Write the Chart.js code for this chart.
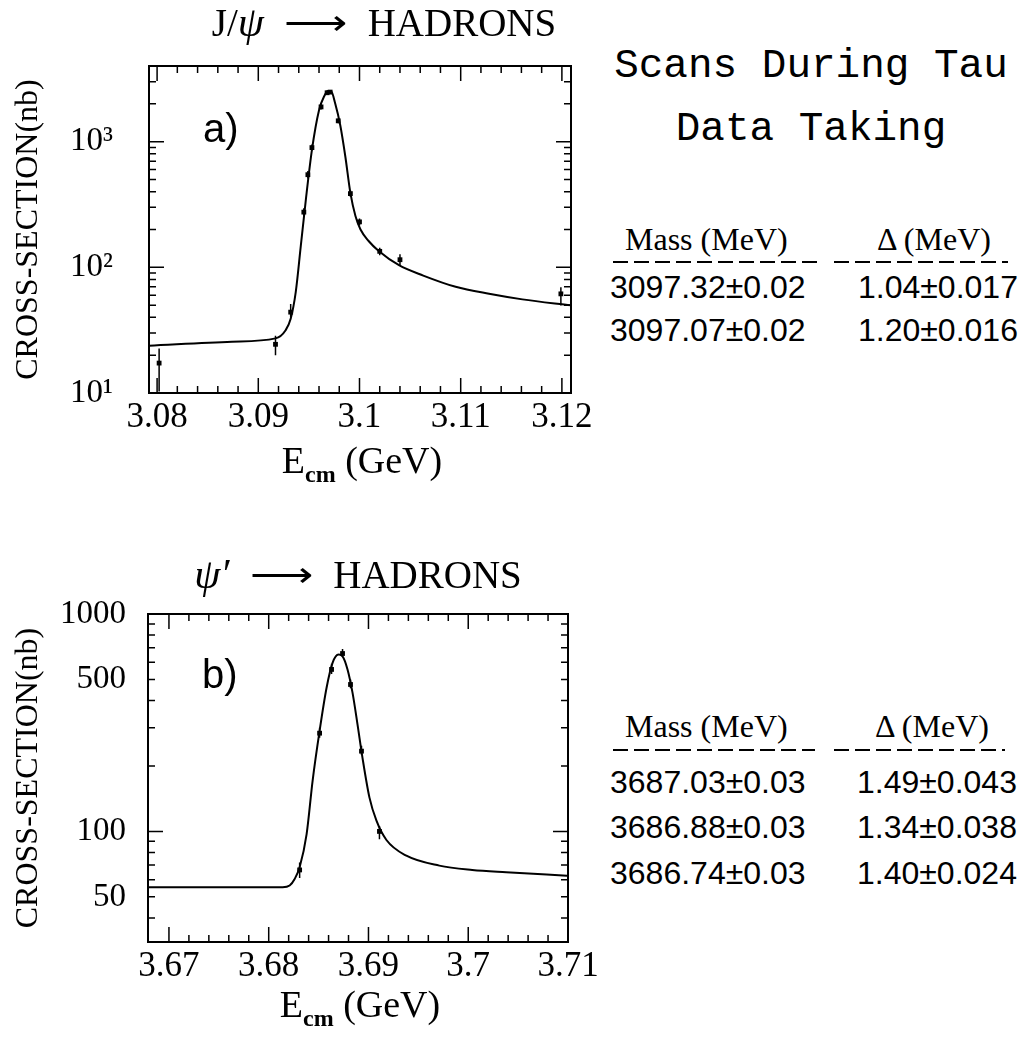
<!DOCTYPE html>
<html lang="en">

<head>
    <meta charset="UTF-8">
    <title>J/psi and psi' scans</title>
    <script src="https://cdn.jsdelivr.net/npm/chart.js"></script>
    <style>
        body { margin: 0; background: #fff; width: 1024px; height: 1050px; overflow: hidden; position: relative; }
        .painel { position: absolute; left: 0; width: 600px; height: 520px; }
        .texto { position: absolute; color: #000; white-space: nowrap; }
        .titulo-dir { font: 41px "Liberation Mono", monospace; line-height: 41px; width: 420px; text-align: center; left: 601px; }
        .cab { font: 32px "Liberation Serif", serif; line-height: 32px; }
        .val { font: 32px "Liberation Sans", sans-serif; line-height: 32px; }
        .traco { position: absolute; height: 2px; background: repeating-linear-gradient(to right, #000 0 15px, transparent 15px 21px); }
    </style>
</head>

<body>
    <div class="painel" style="top:0"><canvas id="graficoJpsi" width="600" height="520"></canvas></div>
    <div class="painel" style="top:530px"><canvas id="graficoPsi2" width="600" height="520"></canvas></div>

    <div class="texto titulo-dir" style="top:46px">Scans During Tau</div>
    <div class="texto titulo-dir" style="top:109px">Data Taking</div>

    <div id="tabelas"></div>

<script>
    // J/psi scan: fitted curve and measured points
    var jpsiCurveE = [3.0792, 3.0874, 3.0917, 3.0927, 3.0932, 3.0937, 3.0942, 3.0947, 3.0953, 3.0960, 3.0965, 3.0969,
        3.0972, 3.0976, 3.0981, 3.0986, 3.0991, 3.0996, 3.1001, 3.1009, 3.1019, 3.1039, 3.1063, 3.1095, 3.1128, 3.1161, 3.1209];
    var jpsiCurveSigma = [23.8, 25.6, 27.2, 31.6, 39, 63.5, 148, 346, 860, 1780, 2290, 2530,
        2520, 2010, 1350, 762, 391, 256, 200, 162, 135, 104, 86, 70, 61.6, 55.6, 49.8];
    var jpsiE = [3.0802, 3.0917, 3.0932, 3.0945, 3.0949, 3.0953, 3.0962, 3.0968, 3.0971, 3.0979, 3.0991, 3.1000, 3.1020, 3.1040, 3.1199];
    var jpsiSigma = [17.3, 24.4, 44, 275, 546, 897, 1890, 2450, 2480, 1465, 386, 230, 134, 115, 61.5];
    var jpsiSigmaLo = [10.3, 20, 40, 255, 510, 850, 1800, 2350, 2400, 1400, 365, 215, 125, 103, 49.8];
    var jpsiSigmaHi = [22.6, 28.5, 51, 295, 585, 950, 1990, 2550, 2570, 1530, 410, 245, 143, 127, 69.5];

    // psi' scan
    var psi2CurveE = [3.6680, 3.6814, 3.6821, 3.6826, 3.6831, 3.6838, 3.6844, 3.6851, 3.6858, 3.6864, 3.6870, 3.6874,
        3.6879, 3.6884, 3.6889, 3.6894, 3.6901, 3.6908, 3.6918, 3.6938, 3.6971, 3.7004, 3.7038, 3.7099];
    var psi2CurveSigma = [55.4, 55.4, 56.4, 60.4, 68.4, 97.2, 171, 290, 458, 596, 651, 639,
        556, 435, 311, 218, 143, 112, 91.3, 77.3, 69.6, 66.5, 64.9, 62.6];
    var psi2E = [3.6831, 3.6851, 3.6863, 3.6874, 3.6882, 3.6893, 3.6911];
    var psi2Sigma = [66.5, 283, 556, 658, 474, 234, 100];
    var psi2SigmaLo = [61, 270, 530, 640, 455, 225, 92];
    var psi2SigmaHi = [72, 300, 590, 690, 500, 248, 106];

    // resultados das tabelas
    var jpsiMass = ['3097.32\u00b10.02', '3097.07\u00b10.02'];
    var jpsiDelta = ['1.04\u00b10.017', '1.20\u00b10.016'];
    var psi2Mass = ['3687.03\u00b10.03', '3686.88\u00b10.03', '3686.74\u00b10.03'];
    var psi2Delta = ['1.49\u00b10.043', '1.34\u00b10.038', '1.40\u00b10.024'];

    function pares(xs, ys) {
        return xs.map(function (x, i) { return { x: x, y: ys[i] }; });
    }

    function ehPotencia(v) {
        var l = Math.log10(v);
        return Math.abs(l - Math.round(l)) < 1e-9;
    }

    // ticks every 0.002 GeV, labels every 0.01
    function ticksX(inicio, fim) {
        return function (scale) {
            var t = [];
            var n = Math.round((fim - inicio) / 0.002);
            for (var i = 0; i <= n; i++) t.push({ value: Math.round((inicio + i * 0.002) * 1e4) / 1e4 });
            scale.ticks = t;
        };
    }

    // 1..9 x 10^n inside the range
    function ticksLog(scale) {
        var t = [];
        for (var e = -1; e <= 5; e++) {
            for (var s = 1; s <= 9; s++) {
                var v = s * Math.pow(10, e);
                if (v >= scale.min - 1e-9 && v <= scale.max + 1e-9) t.push({ value: v });
            }
        }
        scale.ticks = t;
    }

    function rotuloX(v) {
        var c = Math.round(v * 1000);
        return c % 10 === 0 ? String(+v.toFixed(2)) : '';
    }

    // inward ticks on all four sides, frame and error bars
    var molduraPlugin = {
        id: 'moldura',
        afterDatasetsDraw: function (chart) {
            var ctx = chart.ctx, a = chart.chartArea, sx = chart.scales.x, sy = chart.scales.y;
            ctx.save();
            ctx.strokeStyle = '#000';
            ctx.lineWidth = 1.5;
            ctx.beginPath();
            sx.ticks.forEach(function (t) {
                var p = sx.getPixelForValue(t.value);
                var len = t.label ? 15 : 7;
                ctx.moveTo(p, a.bottom); ctx.lineTo(p, a.bottom - len);
                ctx.moveTo(p, a.top); ctx.lineTo(p, a.top + len);
            });
            sy.ticks.forEach(function (t) {
                var p = sy.getPixelForValue(t.value);
                var len = ehPotencia(t.value) ? 15 : 7;
                ctx.moveTo(a.left, p); ctx.lineTo(a.left + len, p);
                ctx.moveTo(a.right, p); ctx.lineTo(a.right - len, p);
            });
            ctx.stroke();

            chart.data.datasets.forEach(function (ds) {
                if (!ds.erroLo) return;
                ctx.beginPath();
                ds.data.forEach(function (pt, i) {
                    var px = sx.getPixelForValue(pt.x);
                    ctx.moveTo(px, Math.min(sy.getPixelForValue(ds.erroLo[i]), a.bottom));
                    ctx.lineTo(px, sy.getPixelForValue(ds.erroHi[i]));
                });
                ctx.stroke();
            });

            ctx.lineWidth = 2;
            ctx.strokeRect(a.left, a.top, a.right - a.left, a.bottom - a.top);
            ctx.restore();
        }
    };

    // title, panel tag and x axis title with subscript
    var textosPlugin = {
        id: 'textos',
        afterDraw: function (chart, args, opts) {
            var ctx = chart.ctx, a = chart.chartArea;
            var cx = (a.left + a.right) / 2;
            ctx.save();
            ctx.fillStyle = '#000';
            ctx.textBaseline = 'alphabetic';
            ctx.textAlign = 'left';

            // titulo: prefixo, seta longa, HADRONS
            var fT = '39px "Liberation Serif"', fTi = 'italic 42px "Liberation Serif"';
            var gap = 20, esticar = 1.3;
            var wPre = 0;
            opts.titulo.forEach(function (p) { ctx.font = p[1] ? fTi : fT; wPre += ctx.measureText(p[0]).width; });
            ctx.font = '34px "Liberation Serif"';
            var wSeta = ctx.measureText('\u27f6').width * esticar;
            ctx.font = fT;
            var wHad = ctx.measureText('HADRONS').width;
            var x = cx + opts.tituloDx - (wPre + wSeta + wHad + 2 * gap) / 2;
            opts.titulo.forEach(function (p) {
                ctx.font = p[1] ? fTi : fT;
                ctx.fillText(p[0], x, opts.tituloY);
                x += ctx.measureText(p[0]).width;
            });
            x += gap;
            ctx.font = '34px "Liberation Serif"';
            ctx.save();
            ctx.translate(x, opts.tituloY - 2);
            ctx.scale(esticar, 1);
            ctx.fillText('\u27f6', 0, 0);
            ctx.restore();
            x += wSeta + gap;
            ctx.font = fT;
            ctx.fillText('HADRONS', x, opts.tituloY);

            ctx.font = '40px "Liberation Sans"';
            ctx.fillText(opts.tag, a.left + 54, a.top + opts.tagDy);

            var fGrande = '38px "Liberation Serif"', fPeq = 'bold 24px "Liberation Serif"';
            ctx.font = fGrande;
            var wE = ctx.measureText('E').width, wG = ctx.measureText(' (GeV)').width;
            ctx.font = fPeq;
            var wC = ctx.measureText('cm').width;
            var x0 = cx + 2 - (wE + wC + wG) / 2;
            var yb = a.bottom + opts.eixoDy;
            ctx.font = fGrande;
            ctx.fillText('E', x0, yb);
            ctx.font = fPeq;
            ctx.fillText('cm', x0 + wE, yb + 9);
            ctx.font = fGrande;
            ctx.fillText(' (GeV)', x0 + wE + wC, yb);
            ctx.restore();
        }
    };

    function montarGrafico(id, cfg) {
        var fonteTick = { family: 'Liberation Serif', size: 35, lineHeight: 0.97 };
        new Chart(document.getElementById(id), {
            type: 'line',
            data: {
                datasets: [{
                    data: pares(cfg.curvaE, cfg.curvaSigma),
                    borderColor: '#000',
                    borderWidth: 2,
                    pointRadius: 0,
                    cubicInterpolationMode: 'monotone',
                    fill: false
                }, {
                    type: 'scatter',
                    data: pares(cfg.pontosE, cfg.pontosSigma),
                    erroLo: cfg.erroLo,
                    erroHi: cfg.erroHi,
                    pointStyle: 'rect',
                    pointRadius: 3.4,
                    backgroundColor: '#000',
                    borderWidth: 0
                }]
            },
            options: {
                responsive: false,
                animation: false,
                devicePixelRatio: 1,
                layout: { padding: { top: cfg.topo, right: cfg.direita, left: 0, bottom: 0 } },
                plugins: {
                    legend: { display: false },
                    tooltip: { enabled: false },
                    textos: { titulo: cfg.titulo, tituloDx: cfg.tituloDx, tituloY: cfg.tituloY, tag: cfg.tag, tagDy: cfg.tagDy, eixoDy: cfg.eixoDy }
                },
                scales: {
                    x: {
                        type: 'linear',
                        min: cfg.xMin,
                        max: cfg.xMax,
                        grid: { display: false },
                        border: { display: false },
                        afterBuildTicks: ticksX(cfg.xInicio, cfg.xFim),
                        afterFit: function (scale) { scale.height = cfg.alturaX; },
                        ticks: { autoSkip: false, maxRotation: 0, padding: 0, color: '#000', font: fonteTick, callback: rotuloX }
                    },
                    y: {
                        type: 'logarithmic',
                        min: cfg.yMin,
                        max: cfg.yMax,
                        grid: { display: false },
                        border: { display: false },
                        afterBuildTicks: ticksLog,
                        afterFit: function (scale) { scale.width = cfg.larguraY; },
                        ticks: { autoSkip: false, padding: cfg.padY, color: '#000', font: { family: 'Liberation Serif', size: 33 }, callback: cfg.rotuloY },
                        title: {
                            display: true,
                            text: 'CROSS-SECTION(nb)',
                            color: '#000',
                            font: { family: 'Liberation Serif', size: 32 },
                            padding: { top: 9, bottom: 0 }
                        }
                    }
                }
            },
            plugins: [molduraPlugin, textosPlugin]
        });
    }

    montarGrafico('graficoJpsi', {
        curvaE: jpsiCurveE, curvaSigma: jpsiCurveSigma,
        pontosE: jpsiE, pontosSigma: jpsiSigma, erroLo: jpsiSigmaLo, erroHi: jpsiSigmaHi,
        xMin: 3.0792, xMax: 3.1209, xInicio: 3.08, xFim: 3.12,
        yMin: 10, yMax: 4000,
        topo: 66, direita: 29, alturaX: 127, larguraY: 149, padY: 28,
        titulo: [['J/', false], ['\u03c8', true]], tituloDx: 24, tituloY: 36,
        tag: 'a)', tagDy: 76, eixoDy: 80,
        rotuloY: function (v) {
            if (v === 10) return '10\u00b9';
            if (v === 100) return '10\u00b2';
            if (v === 1000) return '10\u00b3';
            return '';
        }
    });

    montarGrafico('graficoPsi2', {
        curvaE: psi2CurveE, curvaSigma: psi2CurveSigma,
        pontosE: psi2E, pontosSigma: psi2Sigma, erroLo: psi2SigmaLo, erroHi: psi2SigmaHi,
        xMin: 3.6679, xMax: 3.7100, xInicio: 3.67, xFim: 3.71,
        yMin: 31, yMax: 1000,
        topo: 84, direita: 32, alturaX: 108, larguraY: 148, padY: 14,
        titulo: [['\u03c8\u2032', true]], tituloDx: 0, tituloY: 58,
        tag: 'b)', tagDy: 74, eixoDy: 75,
        rotuloY: function (v) {
            return [50, 100, 500, 1000].indexOf(Math.round(v)) >= 0 && Math.abs(v - Math.round(v)) < 1e-6 ? String(Math.round(v)) : '';
        }
    });

    // tabelas de massa e largura
    function montarTabela(massas, deltas, cabBase, linhaY, linhasBase, tracoEsq, tracoDir, deltaCabX, deltaValX) {
        var html = '';
        html += '<div class="texto cab" style="left:625px;top:' + (cabBase - 27) + 'px">Mass (MeV)</div>';
        html += '<div class="texto cab" style="left:' + deltaCabX + 'px;top:' + (cabBase - 27) + 'px">\u0394 (MeV)</div>';
        html += '<div class="traco" style="left:' + tracoEsq[0] + 'px;width:' + (tracoEsq[1] - tracoEsq[0]) + 'px;top:' + linhaY + 'px"></div>';
        html += '<div class="traco" style="left:' + tracoDir[0] + 'px;width:' + (tracoDir[1] - tracoDir[0]) + 'px;top:' + linhaY + 'px"></div>';
        massas.forEach(function (m, i) {
            html += '<div class="texto val" style="left:610px;top:' + (linhasBase[i] - 27) + 'px">' + m + '</div>';
            html += '<div class="texto val" style="left:' + deltaValX + 'px;top:' + (linhasBase[i] - 27) + 'px">' + deltas[i] + '</div>';
        });
        return html;
    }

    document.getElementById('tabelas').innerHTML =
        montarTabela(jpsiMass, jpsiDelta, 250, 261, [298, 341], [613, 817], [834, 1008], 877, 858) +
        montarTabela(psi2Mass, psi2Delta, 737, 749, [793, 838, 884], [613, 815], [834, 1005], 875, 857);
</script>
</body>

</html>
